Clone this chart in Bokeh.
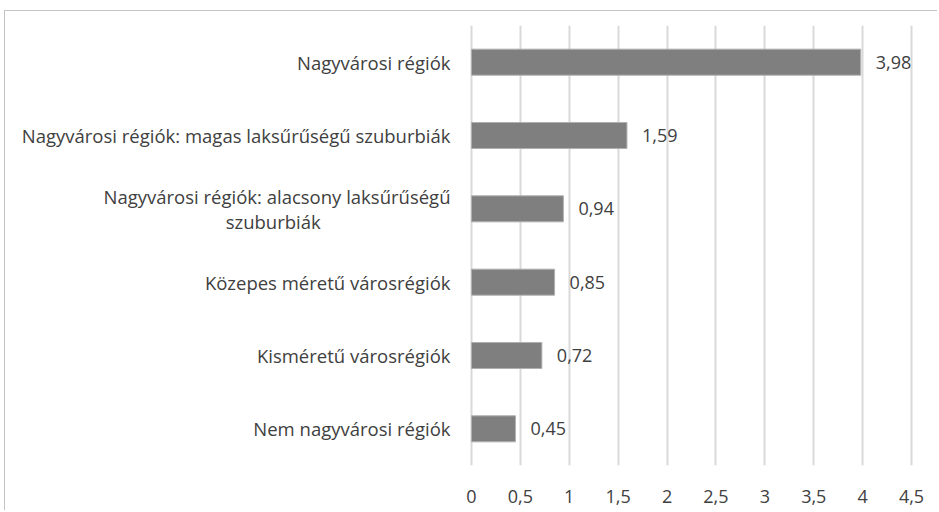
from bokeh.plotting import figure
from bokeh.models import ColumnDataSource, FixedTicker, FactorRange, Range1d, CustomJSTickFormatter
from bokeh.core.properties import value
from bokeh.embed import file_html
from bokeh.resources import INLINE

categories = [
    "Nagyvárosi régiók",
    "Nagyvárosi régiók: magas laksűrűségű szuburbiák",
    "Nagyvárosi régiók: alacsony laksűrűségű\nszuburbiák",
    "Közepes méretű városrégiók",
    "Kisméretű városrégiók",
    "Nem nagyvárosi régiók",
]
values = [3.98, 1.59, 0.94, 0.85, 0.72, 0.45]
tick_values = [0, 0.5, 1, 1.5, 2, 2.5, 3, 3.5, 4, 4.5]
tick_labels = ["0", "0,5", "1", "1,5", "2", "2,5", "3", "3,5", "4", "4,5"]

FONT = "Open Sans"
FS = "18px"
FS_CAT = "18.5px"
TXT = "#404040"

# axis labels are right-aligned line by line; pad the short wrapped line with
# no-break spaces so it sits centred under the first line, as in the original
NBSP_PAD = "\u00a0" * 27
keys = [c + NBSP_PAD if "\n" in c else c for c in categories]

labels = [f"{v:.2f}".replace(".", ",") for v in values]
src = ColumnDataSource(dict(cat=keys, val=values, lab=labels))

p = figure(
    width=933, height=500,
    y_range=FactorRange(*reversed(keys)),
    x_range=Range1d(-0.02, 4.52),
    output_backend="svg", toolbar_location=None,
    min_border_left=464, min_border_right=25, min_border_top=14, min_border_bottom=46,
)
p.styles = {"margin-left": "4px", "margin-top": "10px",
            "border-left": "1px solid #c4c4c4", "border-top": "1px solid #c4c4c4"}
p.outline_line_color = None

p.hbar(y="cat", right="val", left=0, height=0.355, source=src,
       fill_color="#7f7f7f", line_color="#b0b0b0", line_width=1)
p.text(x="val", y="cat", text="lab", source=src, x_offset=15,
       text_baseline="middle", text_align="left",
       text_font=value(FONT), text_font_size=FS, text_color=TXT)

p.xaxis.ticker = FixedTicker(ticks=tick_values)
p.xaxis.formatter = CustomJSTickFormatter(
    args=dict(tvals=tick_values, tlabs=tick_labels),
    code="const i = tvals.indexOf(tick); return i >= 0 ? tlabs[i] : String(tick);")
p.xaxis.axis_line_color = None
p.xaxis.major_tick_line_color = None
p.xaxis.minor_tick_line_color = None
p.xaxis.major_label_standoff = 18
p.xaxis.major_label_text_font = FONT
p.xaxis.major_label_text_font_size = FS
p.xaxis.major_label_text_color = TXT

p.yaxis.axis_line_color = None
p.yaxis.major_tick_line_color = None
p.yaxis.major_label_standoff = 13
p.yaxis.major_label_text_font = FONT
p.yaxis.major_label_text_font_size = FS_CAT
p.yaxis.major_label_text_color = TXT
p.yaxis.major_label_text_line_height = 1.0

p.ygrid.grid_line_color = None
p.xgrid.ticker = FixedTicker(ticks=tick_values)
p.xgrid.grid_line_color = "#d9d9d9"
p.xgrid.grid_line_width = 2

open("out.html", "w").write(file_html(p, INLINE))
